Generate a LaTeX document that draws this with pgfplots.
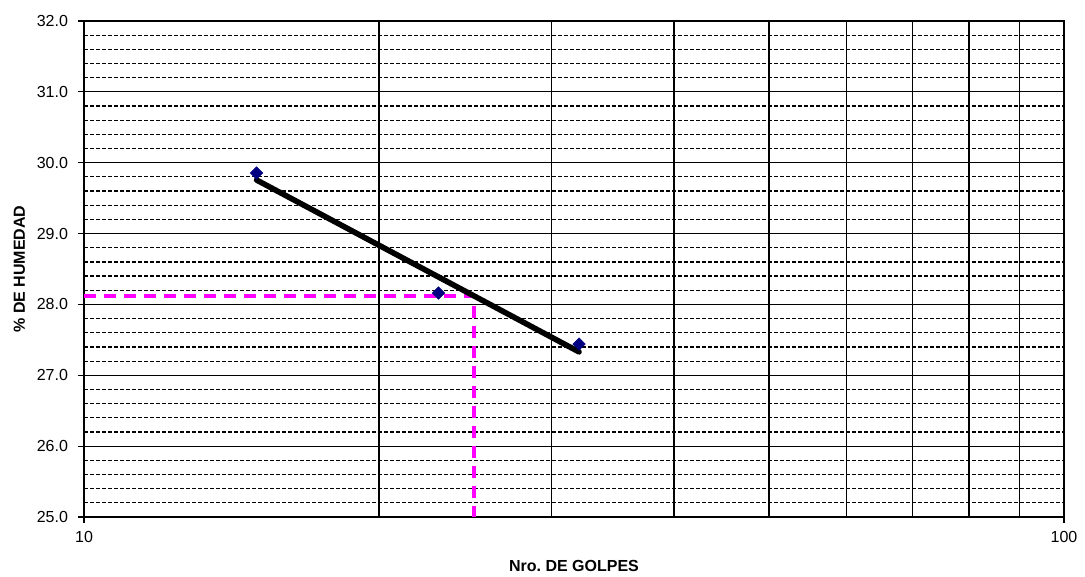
\documentclass[border=0pt]{standalone}
\usepackage{pgfplots}
\pgfplotsset{compat=1.18}
\usepackage{fontspec}
\setmainfont{Liberation Sans}
\definecolor{navyb}{RGB}{0,0,128}
\definecolor{mag}{RGB}{255,0,255}
\begin{document}
\begin{tikzpicture}
\begin{semilogxaxis}[
  scale only axis,
  width=735pt, height=372pt,
  xmin=10, xmax=100, ymin=25, ymax=32,
  xtick={10,100}, xticklabels={10,100},
  minor xtick={20,30,40,50,60,70,80,90},
  ytick={25,26,27,28,29,30,31,32},
  minor ytick={25.2,25.4,25.6,25.8,26.2,26.4,26.6,26.8,27.2,27.4,27.6,27.8,28.2,28.4,28.6,28.8,29.2,29.4,29.6,29.8,30.2,30.4,30.6,30.8,31.2,31.4,31.6,31.8},
  yticklabel style={/pgf/number format/fixed, /pgf/number format/fixed zerofill, /pgf/number format/precision=1, xshift=-4pt},
  /pgf/number format/assume math mode=true,
  tick align=outside,
  major tick length=4.5pt,
  minor tick length=0pt,
  tick style={black, line width=0.9pt},
  xtick pos=bottom, ytick pos=left,
  grid=both,
  major grid style={black, line width=0.9pt, solid},
  minor grid style={black, line width=0.9pt, dash pattern=on 3pt off 1.5pt},
  minor x grid style={black, line width=0.9pt, solid},
  axis line style={black, line width=1.6pt},
  ticklabel style={font=\fontsize{12}{14}\selectfont},
  xticklabel style={yshift=-3pt},
  xlabel={\bfseries Nro.\ DE GOLPES},
  ylabel={\bfseries \% DE HUMEDAD},
  label style={font=\fontsize{12}{14}\selectfont},
  xlabel style={yshift=-6pt},
  ylabel style={yshift=2pt},
  clip=false,
]
\addplot[mag, line width=2.4pt, dash pattern=on 9pt off 6pt] coordinates {(10,28.12) (25,28.12) (25,25)};
\addplot[black, line width=4.2pt, line cap=round] coordinates {(15,29.756) (32,27.33)};
\addplot[only marks, mark=square*, mark size=3.3pt, mark options={rotate=45, navyb, fill=navyb}] coordinates {(15,29.855) (23,28.16) (32,27.44)};
\end{semilogxaxis}
\pgfresetboundingbox
\path (-63pt,-45pt) rectangle (750.75pt,387.75pt);
\end{tikzpicture}
\end{document}
